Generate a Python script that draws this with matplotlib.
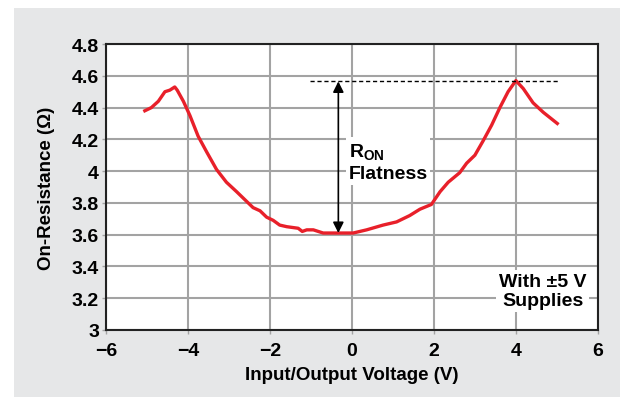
import matplotlib
matplotlib.use("Agg")
import matplotlib.pyplot as plt
from matplotlib.patches import Rectangle

# on-resistance vs input/output voltage
volts = [-5.05, -4.89, -4.72, -4.56, -4.44, -4.32, -4.26, -4.11, -3.95, -3.75,
         -3.54, -3.30, -3.06, -2.81, -2.57, -2.41, -2.24, -2.08, -1.92, -1.76,
         -1.59, -1.31, -1.21, -1.10, -0.94, -0.70, -0.46, 0.03, 0.36, 0.76,
         1.09, 1.41, 1.66, 1.94, 2.15, 2.35, 2.63, 2.80, 3.00, 3.20,
         3.41, 3.61, 3.81, 4.00, 4.18, 4.42, 4.67, 5.01]
r_on = [4.38, 4.40, 4.44, 4.50, 4.51, 4.53, 4.51, 4.44, 4.35, 4.22,
        4.12, 4.01, 3.93, 3.87, 3.81, 3.77, 3.75, 3.71, 3.69, 3.66,
        3.65, 3.64, 3.62, 3.63, 3.63, 3.61, 3.61, 3.61, 3.63, 3.66,
        3.68, 3.72, 3.76, 3.79, 3.87, 3.93, 3.99, 4.05, 4.10, 4.19,
        4.29, 4.40, 4.50, 4.57, 4.52, 4.43, 4.37, 4.30]
r_min = 3.61
r_max = 4.565

xticks = [-6, -4, -2, 0, 2, 4, 6]
xticklabels = ["\u22126", "\u22124", "\u22122", "0", "2", "4", "6"]
yticks = [3, 3.2, 3.4, 3.6, 3.8, 4, 4.2, 4.4, 4.6, 4.8]
yticklabels = ["3", "3.2", "3.4", "3.6", "3.8", "4", "4.2", "4.4", "4.6", "4.8"]

plt.rcParams['font.family'] = ['Liberation Sans', 'DejaVu Sans']
plt.rcParams['font.weight'] = 'bold'

fig = plt.figure(figsize=(6.34, 4.10), dpi=100)
fig.patches.append(Rectangle((0.022, 0.029), 0.956, 0.949, transform=fig.transFigure,
                             facecolor="#e6e7e8", edgecolor="none", zorder=-10))
ax = fig.add_axes([0.167, 0.193, 0.776, 0.697])
ax.set_facecolor("white")

ax.plot(volts, r_on, color="#e8202a", lw=2.4, zorder=3)

# flatness marker
ax.plot([-1.02, 5.03], [r_max, r_max], color="black", lw=1, ls=(0, (3, 2)), zorder=4)
ax.annotate("", xy=(-0.33, r_max), xytext=(-0.33, r_min),
            arrowprops=dict(arrowstyle="<|-|>", color="black", lw=1.2,
                            mutation_scale=16, shrinkA=0, shrinkB=0), zorder=4)
ax.text(-0.08, 4.06, "R$_{\\mathregular{ON}}$\nFlatness", fontsize=14, fontweight="bold",
        ha="left", va="center", linespacing=1.25,
        bbox=dict(facecolor="white", edgecolor="none", pad=2), zorder=5)
ax.text(4.66, 3.245, "With \u00b15 V\nSupplies", fontsize=14, fontweight="bold",
        ha="center", va="center", linespacing=1.2,
        bbox=dict(facecolor="white", edgecolor="none", pad=2), zorder=5)

ax.set_xlim(-6, 6)
ax.set_ylim(3, 4.8)
ax.set_xticks(xticks)
ax.set_xticklabels(xticklabels)
ax.set_yticks(yticks)
ax.set_yticklabels(yticklabels)
ax.grid(True, color="#a3a3a3", lw=1.5, zorder=0)
ax.set_axisbelow(True)
ax.tick_params(labelsize=14, length=3, width=1, color="#a3a3a3", pad=2)
ax.tick_params(axis="x", pad=6)
for s in ax.spines.values():
    s.set_linewidth(1.5)
    s.set_color("#222222")

ax.set_xlabel("Input/Output Voltage (V)", fontsize=13.5, fontweight="bold", labelpad=5)
ax.set_ylabel("On-Resistance (\u03a9)", fontsize=13.5, fontweight="bold", labelpad=12)

fig.savefig("out.png", dpi=100)
